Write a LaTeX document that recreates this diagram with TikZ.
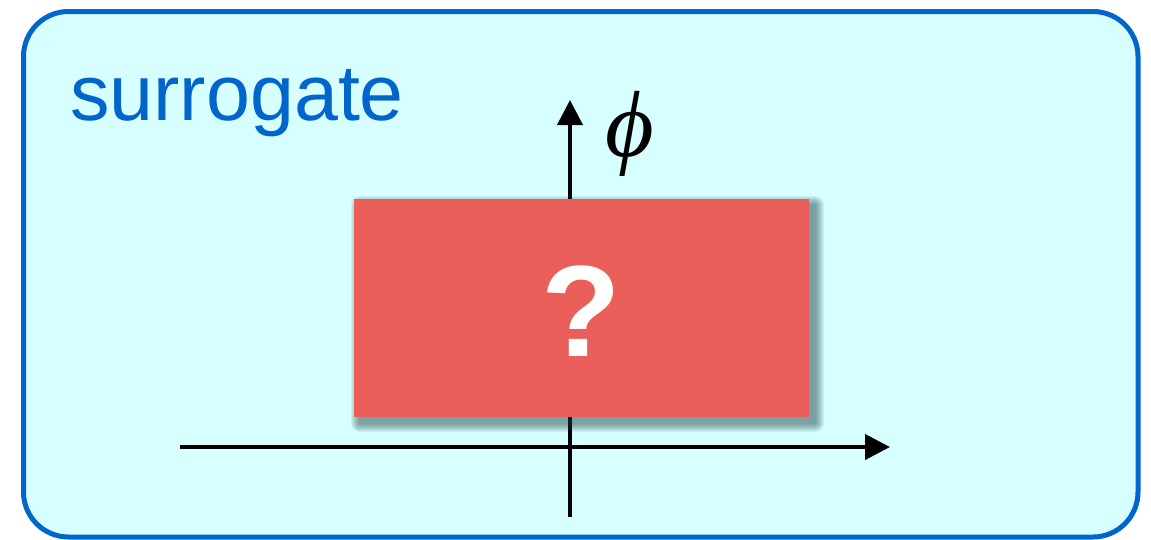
\documentclass[tikz,border=0pt]{standalone}
\usepackage{fontspec}
\setmainfont{Liberation Sans}
\newfontfamily\phifont{Liberation Serif}
\usetikzlibrary{arrows.meta}
\definecolor{panelfill}{RGB}{216,255,255}
\definecolor{panelblue}{RGB}{0,102,204}
\definecolor{boxred}{RGB}{235,95,90}
\definecolor{shade}{RGB}{30,70,70}
\tikzset{
  panel/.style={draw=panelblue, line width=5pt, fill=panelfill, rounded corners=45pt},
  axis/.style={line width=4pt, -{Triangle[length=25pt,width=25pt]}},
  unknown/.style={fill=boxred, draw=none, minimum width=455pt, minimum height=218pt, inner sep=0pt},
  shadowlayer/.style={fill=shade, fill opacity=0.07, draw=none},
}
\begin{document}
\begin{tikzpicture}[x=1pt,y=-1pt]
  \useasboundingbox (0,0) rectangle (1151,539);
  % frame
  \path[panel] (23.5,11.5) rectangle (1138,537);
  \node[anchor=base west, inner sep=0pt, text=panelblue, font=\fontsize{79}{90}\selectfont]
    (title) at (70,120) {surrogate};
  % axes
  \coordinate (ybot) at (570,517);
  \coordinate (ytop) at (570,100);
  \coordinate (xleft) at (180,447);
  \coordinate (xright) at (890,447);
  \draw[axis] (ybot) -- (ytop);
  \draw[axis] (xleft) -- (xright);
  \node[inner sep=0pt, font=\phifont\itshape\fontsize{94}{100}\selectfont] (phi) at (630,134) {ϕ};
  % soft drop shadow, built from stacked translucent layers
  \foreach \r in {1,...,9} {
    \fill[shadowlayer, rounded corners=\r pt]
      (354+6-\r, 199+6-\r) rectangle (809+6+\r, 417+6+\r);
  }
  % unknown function box
  \node[unknown] (q) at (581.5,308) {};
  \node[inner sep=0pt, text=white, font=\fontsize{130}{140}\selectfont\bfseries] (qm) at (581,311) {?};
\end{tikzpicture}
\end{document}
